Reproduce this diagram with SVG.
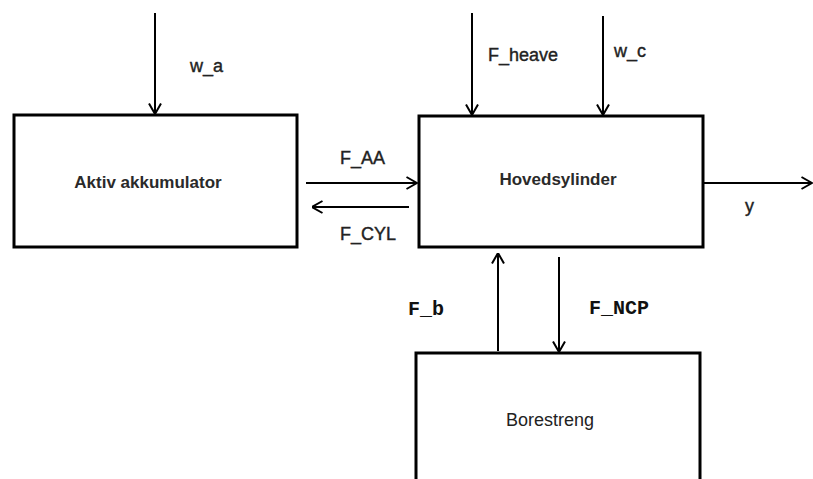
<svg xmlns="http://www.w3.org/2000/svg" width="813" height="479" viewBox="0 0 813 479">
  <defs>
    <marker id="arr" viewBox="0 0 12 14" refX="11.5" refY="7" markerWidth="12" markerHeight="14" markerUnits="userSpaceOnUse" orient="auto">
      <path d="M1,1 L11.5,7 L1,13" fill="none" stroke="#000" stroke-width="2"/>
    </marker>
  </defs>
  <style>
    .box { fill: #fff; stroke: #000; stroke-width: 3; }
    .conn line { stroke: #000; stroke-width: 2; marker-end: url(#arr); }
    .title { font-family: "Liberation Sans", Arial, sans-serif; font-size: 17px; font-weight: bold; fill: #2a2a2a; text-anchor: middle; }
    .lbl { font-family: "Liberation Sans", Arial, sans-serif; font-size: 18px; fill: #222; stroke: #222; stroke-width: 0.4; }
    .plain { font-family: "Liberation Sans", Arial, sans-serif; font-size: 18px; fill: #222; text-anchor: middle; }
    .mono { font-family: "Liberation Mono", "Courier New", monospace; font-size: 20px; font-weight: bold; fill: #111; }
  </style>
  <rect width="813" height="479" fill="#fff"/>

  <g id="aktiv-akkumulator">
    <rect class="box" x="14" y="115" width="283" height="132"/>
    <text class="title" x="148" y="188">Aktiv akkumulator</text>
  </g>

  <g id="hovedsylinder">
    <rect class="box" x="419" y="116" width="284" height="131"/>
    <text class="title" x="558" y="185">Hovedsylinder</text>
  </g>

  <g id="borestreng">
    <rect class="box" x="416" y="353" width="284" height="140"/>
    <text class="plain" x="550" y="426">Borestreng</text>
  </g>

  <g id="connectors" class="conn">
    <line x1="155" y1="13" x2="155" y2="114"/>
    <line x1="472" y1="13" x2="472" y2="115"/>
    <line x1="603" y1="16" x2="603" y2="115"/>
    <line x1="306" y1="183" x2="417" y2="183"/>
    <line x1="409" y1="207" x2="312" y2="207"/>
    <line x1="704" y1="183" x2="812" y2="183"/>
    <line x1="498" y1="351" x2="498" y2="253"/>
    <line x1="559" y1="257" x2="559" y2="352"/>
  </g>

  <g id="labels">
    <text class="lbl" x="190" y="72">w_a</text>
    <text class="lbl" x="488" y="61">F_heave</text>
    <text class="lbl" x="614" y="57">w_c</text>
    <text class="lbl" x="340" y="164">F_AA</text>
    <text class="lbl" x="340" y="240">F_CYL</text>
    <text class="lbl" x="745" y="212">y</text>
    <text class="mono" x="408" y="315">F_b</text>
    <text class="mono" x="589" y="314">F_NCP</text>
  </g>
</svg>
